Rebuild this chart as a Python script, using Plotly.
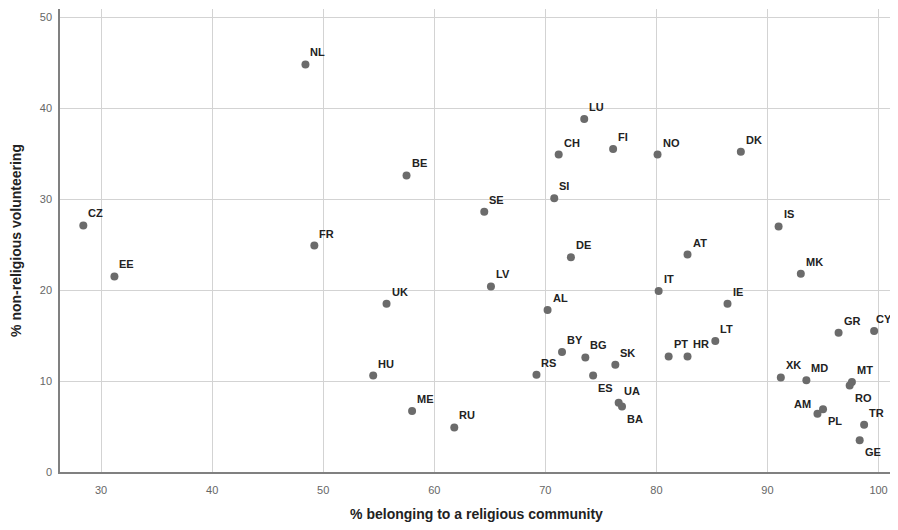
import plotly.graph_objects as go

countries = ["NL", "CZ", "EE", "BE", "FR", "SE", "SI", "CH", "LU", "DE", "FI", "NO", "DK",
             "IS", "AT", "MK", "IT", "IE", "LT", "PT", "HR", "SK", "UA", "BA", "XK", "MD",
             "MT", "RO", "GR", "CY", "AM", "PL", "TR", "GE", "UK", "LV", "AL", "HU", "ME",
             "RU", "RS", "BY", "BG", "ES"]
belonging = [48.4, 28.4, 31.2, 57.5, 49.2, 64.5, 70.8, 71.2, 73.5, 72.3, 76.1, 80.1, 87.6,
             91.0, 82.8, 93.0, 80.2, 86.4, 85.3, 81.1, 82.8, 76.3, 76.6, 76.9, 91.2, 93.5,
             97.6, 97.4, 96.4, 99.6, 94.5, 95.0, 98.7, 98.3, 55.7, 65.1, 70.2, 54.5, 58.0,
             61.8, 69.2, 71.5, 73.6, 74.3]
volunteering = [44.8, 27.1, 21.5, 32.6, 24.9, 28.6, 30.1, 34.9, 38.8, 23.6, 35.5, 34.9, 35.2,
                27.0, 23.9, 21.8, 19.9, 18.5, 14.4, 12.7, 12.7, 11.8, 7.6, 7.2, 10.4, 10.1,
                9.9, 9.5, 15.3, 15.5, 6.4, 6.9, 5.2, 3.5, 18.5, 20.4, 17.8, 10.6, 6.7,
                4.9, 10.7, 13.2, 12.6, 10.6]
# label placement: "ur" upper-right, "lr" lower-right, "ul" upper-left, "uc" just above
label_pos = {"ES": "lr", "BA": "lr", "RO": "lr", "PL": "lr", "GE": "lr", "AM": "ul",
             "CY": "uc"}

x_ticks = [30, 40, 50, 60, 70, 80, 90, 100]
y_ticks = [0, 10, 20, 30, 40, 50]

fig = go.Figure()
fig.add_trace(go.Scatter(
    x=belonging, y=volunteering, mode="markers",
    marker=dict(size=8, color="#6b6b6b"),
    hoverinfo="text", text=countries, showlegend=False,
))

annotations = []
for c, xv, yv in zip(countries, belonging, volunteering):
    pos = label_pos.get(c, "ur")
    if pos == "ur":
        xa, ya, xs, ys = "left", "bottom", 3, 4
    elif pos == "lr":
        xa, ya, xs, ys = "left", "top", 3, -4
    elif pos == "uc":
        xa, ya, xs, ys = "left", "bottom", 0, 4
    else:
        xa, ya, xs, ys = "right", "bottom", -4, 2
    annotations.append(dict(
        x=xv, y=yv, xref="x", yref="y", text="<b>" + c + "</b>", showarrow=False,
        xanchor=xa, yanchor=ya, xshift=xs, yshift=ys,
        font=dict(family="Liberation Sans, Arial, sans-serif", size=11, color="#222222"),
    ))

# the page body has an 8px margin, so the figure is sized/offset to compensate
fig.update_layout(
    width=890, height=514,
    margin=dict(l=52, r=5, t=1, b=50),
    paper_bgcolor="white", plot_bgcolor="white",
    annotations=annotations,
    font=dict(family="Liberation Sans, Arial, sans-serif"),
    xaxis=dict(
        range=[26.3, 101.3], tickvals=x_ticks, ticktext=[str(v) for v in x_ticks],
        showgrid=True, gridcolor="#d3d3d3", gridwidth=1,
        showline=True, linecolor="#808080", linewidth=1.5,
        zeroline=False, ticks="", ticklabelstandoff=7,
        tickfont=dict(size=11, color="#666666"),
        title=dict(text="% belonging to a religious community", standoff=16,
                   font=dict(size=14, color="#222222", weight="bold")),
        automargin=False,
    ),
    yaxis=dict(
        range=[0, 50.9], tickvals=y_ticks, ticktext=[str(v) for v in y_ticks],
        showgrid=True, gridcolor="#d3d3d3", gridwidth=1,
        showline=True, linecolor="#808080", linewidth=1.5,
        zeroline=False, ticks="", ticklabelstandoff=4,
        tickfont=dict(size=11, color="#666666"),
        title=dict(text="% non-religious volunteering", standoff=15,
                   font=dict(size=14, color="#222222", weight="bold")),
        automargin=False,
    ),
)

fig.write_html("out.html")
